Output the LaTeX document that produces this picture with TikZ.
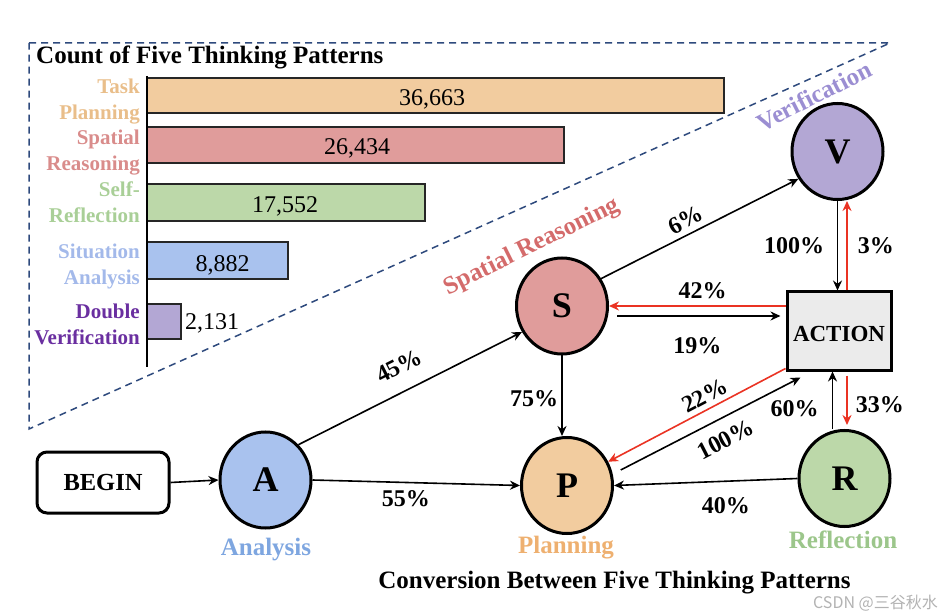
\documentclass[tikz,border=0pt]{standalone}
\usepackage{fontspec}
\setmainfont{Liberation Serif}
\newfontfamily\cjkfont{Noto Sans CJK SC}
\usetikzlibrary{shapes.geometric,arrows.meta}

\definecolor{peach}{HTML}{F2CC9F}
\definecolor{rose}{HTML}{E09C9B}
\definecolor{sage}{HTML}{BCD8A9}
\definecolor{sky}{HTML}{A9C2EE}
\definecolor{lilac}{HTML}{B3A7D4}
\definecolor{peachtext}{HTML}{E9BE8A}
\definecolor{rosetext}{HTML}{D98C8B}
\definecolor{sagetext}{HTML}{A9CF97}
\definecolor{skytext}{HTML}{A3B9EA}
\definecolor{plum}{HTML}{6A2FA0}
\definecolor{spatialtext}{HTML}{D46B6B}
\definecolor{veritext}{HTML}{9B8ED2}
\definecolor{analysistext}{HTML}{7EA6E0}
\definecolor{plantext}{HTML}{EEB070}
\definecolor{refltext}{HTML}{9CC68B}
\definecolor{navy}{HTML}{2E4A7D}
\definecolor{backred}{HTML}{EA3323}
\definecolor{actiongray}{HTML}{EBEBEB}

\begin{document}
\begin{tikzpicture}[x=1pt,y=-1pt,
    state/.style={ellipse,draw,line width=3pt,minimum width=91pt,minimum height=96pt,inner sep=0pt,
      font={\bfseries\fontsize{36}{40}\selectfont}},
    box/.style={rectangle,draw,line width=3pt,font={\bfseries\fontsize{23}{26}\selectfont}},
    flow/.style={-{Stealth[length=10pt,width=9pt]},line width=1.6pt},
    back/.style={flow,backred},
    pct/.style={text=black,font={\bfseries\fontsize{24}{28}\selectfont},inner sep=1pt},
    bar/.style={draw=black!85,line width=2pt},
    count/.style={font={\fontsize{24}{28}\selectfont},inner sep=0pt},
    kind/.style={anchor=east,align=right,inner sep=0pt,font={\bfseries\fontsize{21}{26}\selectfont}},
    tag/.style={inner sep=0pt,font={\bfseries\fontsize{25}{30}\selectfont}}]

    \useasboundingbox (0,0) rectangle (940,612);

    % bar chart
    \draw[navy,line width=1.5pt,dash pattern=on 7pt off 5pt] (29,43) -- (890,43) -- (29,429) -- cycle;
    \node[tag,anchor=base west] (chartTitle) at (36,64) {Count of Five Thinking Patterns};

    \draw[bar,fill=peach] (147,78) rectangle (724,113);
    \draw[bar,fill=rose]  (147,127) rectangle (564,163);
    \draw[bar,fill=sage]  (147,184) rectangle (425,221);
    \draw[bar,fill=sky]   (147,242) rectangle (288,279);
    \draw[bar,fill=lilac] (147,304) rectangle (181,339);
    \draw[line width=2pt] (147,76) -- (147,367);

    \node[count] (countP) at (432,99.4)  {36,663};
    \node[count] (countS) at (357,148.4) {26,434};
    \node[count] (countR) at (285,206.7) {17,552};
    \node[count] (countA) at (222.5,265) {8,882};
    \node[count] (countV) at (212,323.4) {2,131};

    \node[kind,peachtext] (kindP) at (140,101.5) {Task\\Planning};
    \node[kind,rosetext]  (kindS) at (140,152.8) {Spatial\\Reasoning};
    \node[kind,sagetext]  (kindR) at (140,202)   {Self-\\Reflection};
    \node[kind,skytext]   (kindA) at (140,266)   {Situation\\Analysis};
    \node[kind,plum]      (kindV) at (140,324.4) {Double\\Verification};

    % conversion graph
    \node[box,rounded corners=10pt,minimum width=132pt,minimum height=61pt,font={\bfseries\fontsize{24.5}{28}\selectfont}] (begin) at (103,482.5) {BEGIN};
    \node[state,fill=sky]   (A) at (265.5,480)   {A};
    \node[state,fill=rose]  (S) at (562,306)     {S};
    \node[state,fill=peach] (P) at (567,485.5)   {P};
    \node[state,fill=sage]  (R) at (844.5,478.5) {R};
    \node[state,fill=lilac] (V) at (837.5,151.5) {V};
    \node[box,fill=actiongray,minimum width=104pt,minimum height=78pt,text height=21pt] (action) at (839,331) {ACTION};

    \draw[flow] (begin.east) -- (A.west);
    \draw[flow] (A.47) -- (S.213) node[pct,sloped,above=15pt,pos=.5] {45\%};
    \draw[flow] (A.east) -- (P.west) node[pct,below=6.5pt,pos=.45] {55\%};
    \draw[flow] (S.35) -- (V.215) node[pct,sloped,above=4pt,pos=.46] {6\%};
    \draw[flow] (S.south) -- (S.south |- P.north) node[pct,left=2pt,pos=.54] {75\%};
    \draw[flow,shorten <=8pt,shorten >=5pt] ([yshift=-10pt]S.east) -- ([yshift=-10pt]S.east -| action.west)
        node[pct,below=19.5pt,pos=.5] {19\%};
    \draw[back] (action.west |- S.east) -- (S.east) node[pct,above=5.5pt,pos=.47] {42\%};
    \draw[flow] (V.south) -- (V.south |- action.north) node[pct,left=11.5pt,pos=.5] {100\%};
    \draw[back] ([xshift=8pt]action.north) -- ([xshift=8pt]action.north |- V.south) node[pct,right=9pt,pos=.5] {3\%};
    \draw[back] ([yshift=3pt]action.south west) -- (P.30) node[pct,sloped,above=3.5pt,pos=.42] {22\%};
    \draw[flow,shorten <=9pt] (P.14) -- ([xshift=15pt,yshift=-6pt]action.south west)
        node[pct,sloped,below=11pt,pos=.55] {100\%};
    \draw[flow] ([xshift=-12pt]R.north) -- ([xshift=-12pt]R.north |- action.south) node[pct,left=12pt,pos=.36] {60\%};
    \draw[back,shorten <=4pt,shorten >=4pt] ([xshift=8pt]action.south) -- ([xshift=8pt]action.south |- R.north)
        node[pct,right=7pt,pos=.58] {33\%};
    \draw[flow] (R.west) -- (P.east) node[pct,below=14.5pt,pos=.39] {40\%};

    \node[tag,rotate=26.4,spatialtext] (spatialTag) at (532,247) {Spatial Reasoning};
    \node[tag,rotate=27,veritext]      (veriTag)    at (814,96)  {Verification};
    \node[tag,anchor=base,analysistext] (analysisTag) at (266,555) {Analysis};
    \node[tag,anchor=base,plantext]     (planTag)     at (566,553) {Planning};
    \node[tag,anchor=base,refltext]     (reflTag)     at (843,548) {Reflection};
    \node[tag,anchor=base] (graphTitle) at (614.5,588) {Conversion Between Five Thinking Patterns};

    \node[anchor=east,inner sep=0pt,black!30,font={\cjkfont\fontsize{16}{18}\selectfont}] (mark) at (938,603) {CSDN @三谷秋水};

\end{tikzpicture}
\end{document}
